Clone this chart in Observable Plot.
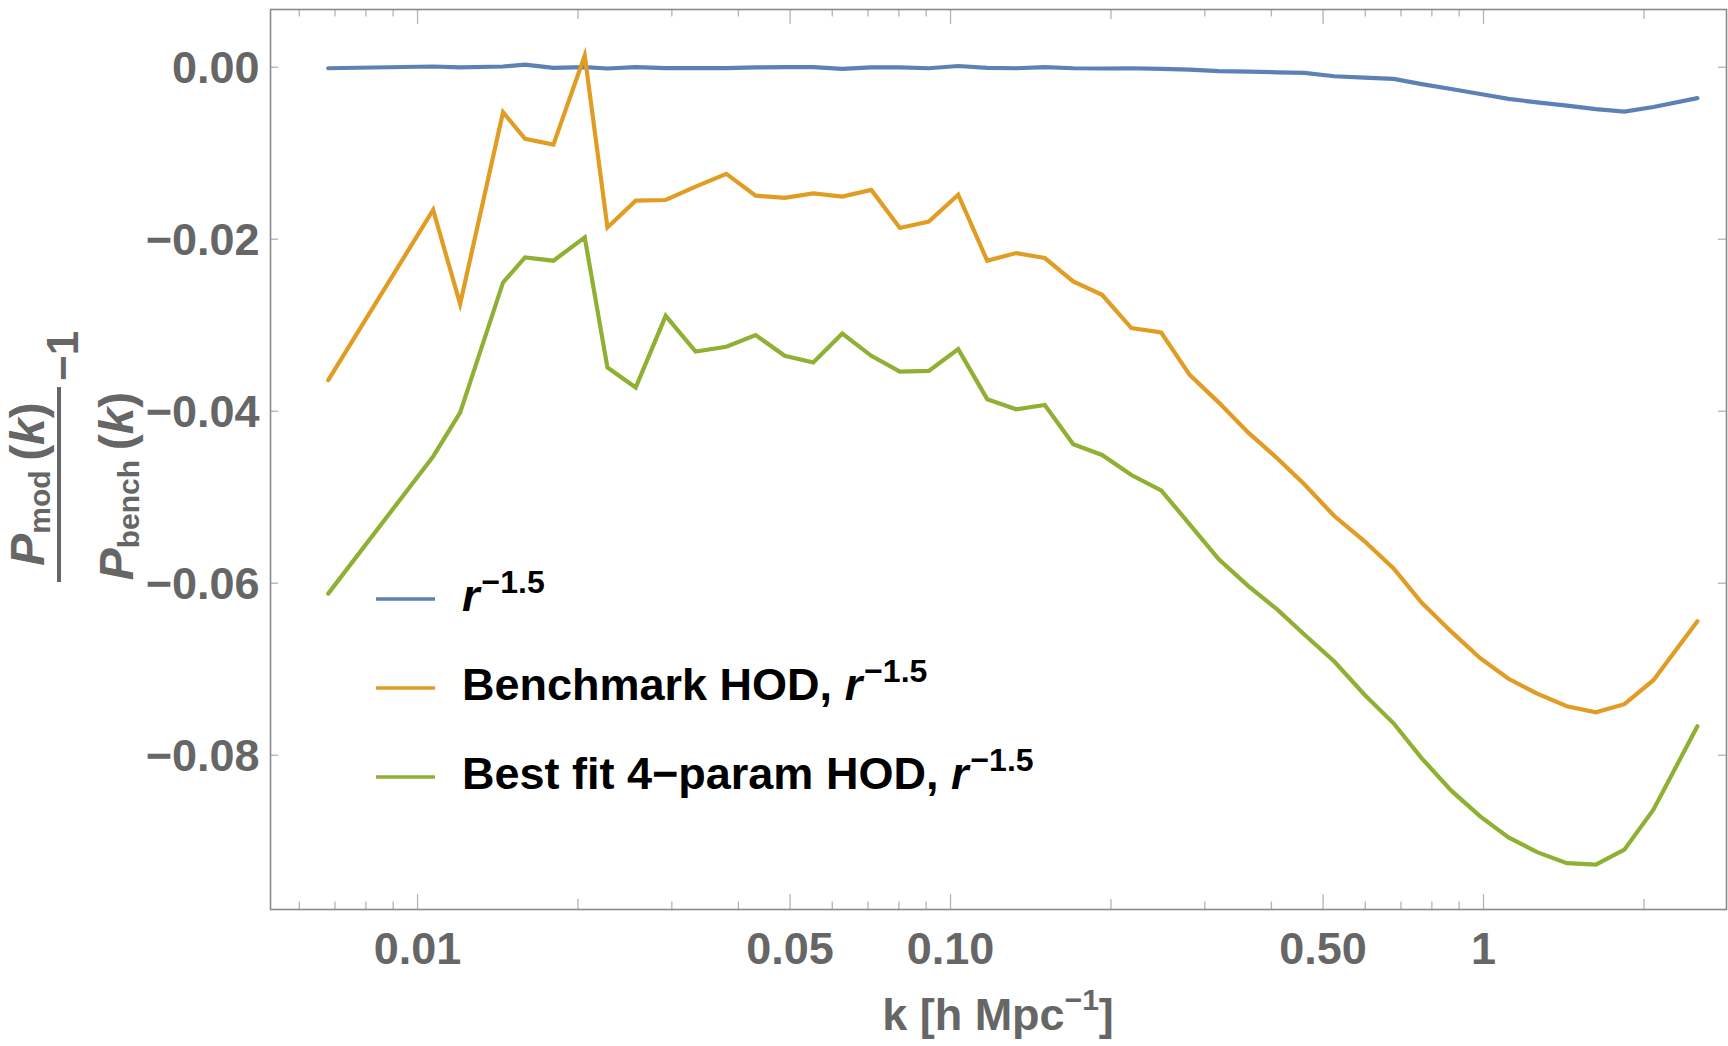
<!DOCTYPE html>
<html>
<head>
<meta charset="utf-8">
<script src="https://cdn.jsdelivr.net/npm/d3@7"></script>
<script src="https://cdn.jsdelivr.net/npm/@observablehq/plot@0.6"></script>
<style>
  html, body { margin: 0; padding: 0; background: #fff; }
  #chart { width: 1728px; height: 1046px; }
</style>
</head>
<body>
<div id="chart"></div>
<script>
// ---- data ----
const kValues = [0.006799, 0.010697, 0.01202, 0.014468, 0.015911, 0.017985, 0.020592, 0.022714, 0.025663, 0.029214,
  0.033245, 0.037962, 0.043091, 0.048844, 0.055271, 0.062651, 0.071015, 0.080345, 0.091054, 0.10338,
  0.11718, 0.1328, 0.15027, 0.16988, 0.19245, 0.21846, 0.24843, 0.281, 0.31874, 0.36209,
  0.41002, 0.46111, 0.52486, 0.59757, 0.67807, 0.76584, 0.87004, 0.98585, 1.1141, 1.2609,
  1.4334, 1.6249, 1.8379, 2.0834, 2.5193];

const blueValues = [-0.00012, 0.00008, -0.00003, 0.00008, 0.00031, -0.00007, 0.0, -0.00015, 0.00002, -0.0001,
  -0.0001, -0.0001, -0.00003, 0.0, 0.00002, -0.00019, -0.00003, -0.00003, -0.00012, 0.00014,
  -0.00007, -0.00012, 0.00002, -0.00012, -0.00015, -0.00012, -0.00019, -0.00027, -0.00046, -0.00052,
  -0.00059, -0.00065, -0.00105, -0.0012, -0.00135, -0.00196, -0.00254, -0.00312, -0.00368, -0.00409,
  -0.00446, -0.00487, -0.00516, -0.00463, -0.00359];

const orangeValues = [-0.03639, -0.0166, -0.02754, -0.00524, -0.00834, -0.009, 0.00136, -0.01863, -0.01552, -0.01544,
  -0.01389, -0.01241, -0.01494, -0.0152, -0.01467, -0.01505, -0.01427, -0.0187, -0.01796, -0.01482,
  -0.0225, -0.02161, -0.02219, -0.02491, -0.02646, -0.03034, -0.03085, -0.03577, -0.039, -0.04249,
  -0.04547, -0.0485, -0.05219, -0.0551, -0.05828, -0.06228, -0.06563, -0.06872, -0.07111, -0.07285,
  -0.07431, -0.07501, -0.07407, -0.07128, -0.06441];

const greenValues = [-0.06121, -0.04526, -0.04016, -0.02503, -0.02212, -0.0225, -0.01979, -0.03492, -0.03725, -0.02891,
  -0.03306, -0.03251, -0.03115, -0.03356, -0.03434, -0.03097, -0.03356, -0.03539, -0.03531, -0.03278,
  -0.0386, -0.03977, -0.03927, -0.04384, -0.04509, -0.04742, -0.0492, -0.05315, -0.05723, -0.06034,
  -0.06305, -0.06596, -0.0691, -0.07294, -0.07629, -0.08036, -0.08412, -0.08711, -0.08956, -0.09127,
  -0.09255, -0.09273, -0.09099, -0.08633, -0.07664];

const seriesNames = ["r^-1.5", "Benchmark HOD, r^-1.5", "Best fit 4-param HOD, r^-1.5"];
const legendPrefixes = ["", "Benchmark HOD, ", "Best fit 4\u2212param HOD, "];
const seriesColors = ["#5E81B5", "#E19C24", "#8FB032"];

const xTickValues = [0.01, 0.05, 0.1, 0.5, 1];
const xTickLabels = ["0.01", "0.05", "0.10", "0.50", "1"];
const xMinorTicks = [0.006, 0.007, 0.008, 0.009, 0.03, 0.04, 0.06, 0.07, 0.08, 0.09,
  0.3, 0.4, 0.6, 0.7, 0.8, 0.9];
const xMidTicks = [0.02, 0.2, 2];
const yTickValues = [0, -0.02, -0.04, -0.06, -0.08];
const yTickLabels = ["0.00", "\u22120.02", "\u22120.04", "\u22120.06", "\u22120.08"];

// ---- build table ----
const allSeries = [blueValues, orangeValues, greenValues];
const rows = [];
allSeries.forEach((vals, s) => {
  vals.forEach((v, i) => rows.push({k: kValues[i], v, s: seriesNames[s]}));
});

const FONT = "Liberation Sans, Arial, Helvetica, sans-serif";
const W = 1728, H = 1046;
const mL = 270, mR = 2, mT = 9, mB = 137;
const innerW = W - mL - mR, innerH = H - mT - mB;
const TXT = "#666666";
const TICK = "#b4b4b4";

const plot = Plot.plot({
  width: W,
  height: H,
  marginLeft: mL, marginRight: mR, marginTop: mT, marginBottom: mB,
  style: {fontFamily: FONT, background: "#fff", overflow: "visible"},
  x: {type: "log", domain: [0.005298, 2.857], axis: null},
  y: {domain: [-0.09794, 0.00671], axis: null},
  color: {domain: seriesNames, range: seriesColors},
  marks: [
    // tick marks (inside the frame, Mathematica style)
    Plot.tickX(xTickValues, {x: d => d, stroke: TICK, strokeWidth: 1.3, insetTop: innerH - 15}),
    Plot.tickX(xTickValues, {x: d => d, stroke: TICK, strokeWidth: 1.3, insetBottom: innerH - 15}),
    Plot.tickX(xMidTicks, {x: d => d, stroke: TICK, strokeWidth: 1.3, insetTop: innerH - 10}),
    Plot.tickX(xMidTicks, {x: d => d, stroke: TICK, strokeWidth: 1.3, insetBottom: innerH - 10}),
    Plot.tickX(xMinorTicks, {x: d => d, stroke: TICK, strokeWidth: 1.3, insetTop: innerH - 7.5}),
    Plot.tickX(xMinorTicks, {x: d => d, stroke: TICK, strokeWidth: 1.3, insetBottom: innerH - 7.5}),
    Plot.tickY(yTickValues, {y: d => d, stroke: TICK, strokeWidth: 1.3, insetRight: innerW - 8}),
    Plot.tickY(yTickValues, {y: d => d, stroke: TICK, strokeWidth: 1.3, insetLeft: innerW - 8}),
    Plot.frame({stroke: "#8a8a8a", strokeWidth: 1.6}),
    // data lines
    Plot.line(rows, {x: "k", y: "v", z: "s", stroke: "s", strokeWidth: 4.2, strokeLinejoin: "miter", strokeMiterlimit: 6}),
    // tick labels
    Plot.text(xTickValues, {x: d => d, text: (d, i) => xTickLabels[i], frameAnchor: "bottom", lineAnchor: "bottom",
      dy: 54, fontSize: 45, fontWeight: "bold", fill: TXT, fontFamily: FONT}),
    Plot.text(yTickValues, {y: d => d, text: (d, i) => yTickLabels[i], frameAnchor: "left", textAnchor: "end",
      lineAnchor: "middle", dx: -11, dy: 1, fontSize: 45, fontWeight: "bold", fill: TXT, fontFamily: FONT})
  ]
});

document.getElementById("chart").appendChild(plot);
const svg = d3.select(plot);

// ---- y-axis label: P_mod(k) / P_bench(k) - 1 (rotated) ----
const yl = svg.append("g").attr("fill", TXT).attr("font-family", FONT).attr("font-weight", "bold");
function fracPart(x, y, sub) {
  const t = yl.append("text").attr("transform", `translate(${x},${y}) rotate(-90)`)
    .attr("text-anchor", "middle").attr("font-size", 48);
  t.append("tspan").attr("font-style", "italic").text("P");
  t.append("tspan").attr("font-size", 30).attr("dy", 6).text(sub);
  t.append("tspan").attr("dy", -6).text("\u2009(");
  t.append("tspan").attr("font-style", "italic").text("k");
  t.append("tspan").text(")");
}
fracPart(44, 484, "mod");
fracPart(133, 486, "bench");
yl.append("line").attr("x1", 59).attr("x2", 59).attr("y1", 387).attr("y2", 582)
  .attr("stroke", TXT).attr("stroke-width", 4);
yl.append("text").attr("transform", "translate(78,381) rotate(-90)").attr("text-anchor", "start")
  .attr("font-size", 44).text("\u22121");

// ---- x-axis label ----
const xl = svg.append("text").attr("x", mL + innerW / 2).attr("y", 1030).attr("text-anchor", "middle")
  .attr("fill", TXT).attr("font-family", FONT).attr("font-weight", "bold").attr("font-size", 45);
xl.append("tspan").text("k [h Mpc");
xl.append("tspan").attr("font-size", 30).attr("dy", -20).text("\u22121");
xl.append("tspan").attr("dy", 20).text("]");

// ---- legend ----
const legY = [599, 688, 777];
const lg = svg.append("g").attr("font-family", FONT).attr("font-weight", "bold");
seriesNames.forEach((name, i) => {
  lg.append("line").attr("x1", 376).attr("x2", 435).attr("y1", legY[i]).attr("y2", legY[i])
    .attr("stroke", seriesColors[i]).attr("stroke-width", 3.4);
  const t = lg.append("text").attr("x", 462).attr("y", legY[i] + 11.5).attr("text-anchor", "start")
    .attr("font-size", 45).attr("fill", "#000");
  if (legendPrefixes[i]) t.append("tspan").text(legendPrefixes[i]);
  t.append("tspan").attr("font-style", "italic").text("r");
  t.append("tspan").attr("font-size", 32).attr("dx", 2).attr("dy", -18).text("\u22121.5");
});
</script>
</body>
</html>
